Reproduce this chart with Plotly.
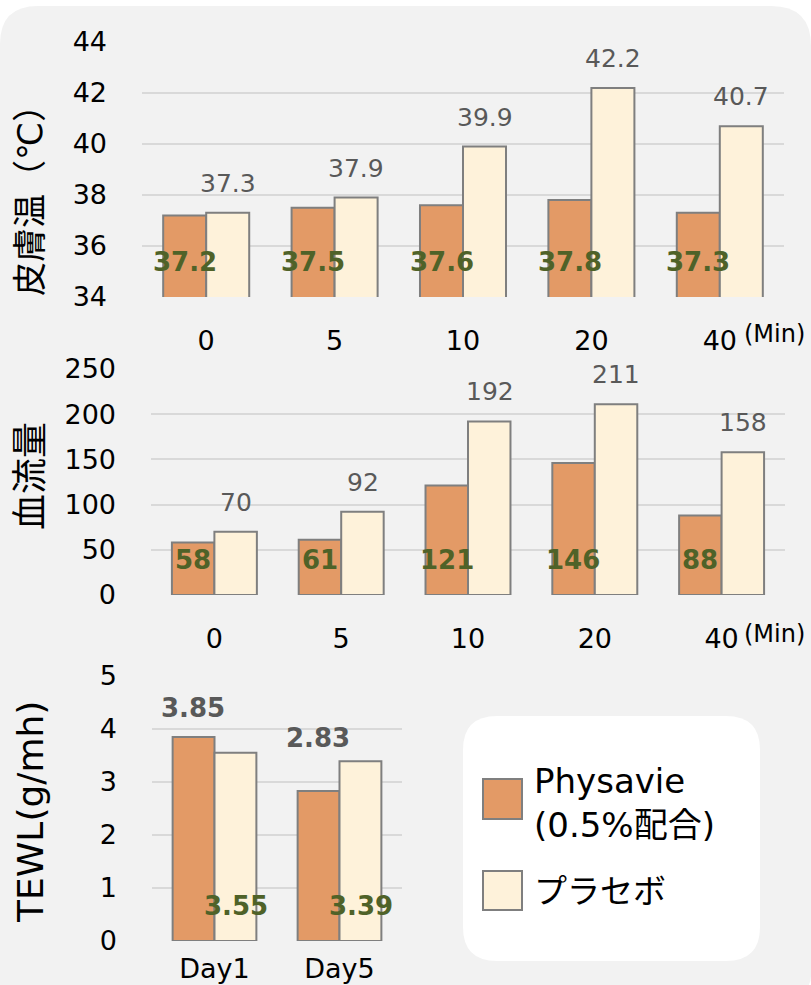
import plotly.graph_objects as go

# ---- data ----
minutes = ["0", "5", "10", "20", "40"]
temp_physavie = [37.2, 37.5, 37.6, 37.8, 37.3]
temp_placebo = [37.3, 37.9, 39.9, 42.2, 40.7]
flow_physavie = [58, 61, 121, 146, 88]
flow_placebo = [70, 92, 192, 211, 158]
days = ["Day1", "Day5"]
tewl_physavie = [3.85, 2.83]
tewl_placebo = [3.55, 3.39]

temp_ticks = [34, 36, 38, 40, 42, 44]
flow_ticks = [0, 50, 100, 150, 200, 250]
tewl_ticks = [0, 1, 2, 3, 4, 5]

series_names = ["Physavie<br>(0.5%配合)", "プラセボ"]
y_titles = ["皮膚温（℃）", "血流量", "TEWL(g/mh)"]
unit_label = "(Min)"

# ---- style ----
W, H = 811, 985
FONT = "DejaVu Sans, Noto Sans CJK JP, sans-serif"
C_PHYS = "#E39A66"
C_PLAC = "#FEF2DA"
C_EDGE = "#7F7F7F"
C_GREEN = "#4F6228"
C_GREYTXT = "#595959"
C_GRID = "#D9D9D9"


def px_x(p):
    return p / W


def px_y(p):
    return 1 - p / H


fig = go.Figure()

panels = [
    ("x", "y", minutes, temp_physavie, temp_placebo),
    ("x2", "y2", minutes, flow_physavie, flow_placebo),
    ("x3", "y3", days, tewl_physavie, tewl_placebo),
]
for xa, ya, cats, phys, plac in panels:
    fig.add_trace(go.Bar(x=cats, y=phys, name=series_names[0], xaxis=xa, yaxis=ya,
                         marker=dict(color=C_PHYS, line=dict(color=C_EDGE, width=2)),
                         showlegend=False, hoverinfo="skip"))
    fig.add_trace(go.Bar(x=cats, y=plac, name=series_names[1], xaxis=xa, yaxis=ya,
                         marker=dict(color=C_PLAC, line=dict(color=C_EDGE, width=2)),
                         showlegend=False, hoverinfo="skip"))

annotations = []
half_bar = 21.5

# panels 1 & 2: placebo value above bar (grey), physavie value near base (green bold)
for xa, ya, cats, phys, plac in panels[:2]:
    for i, (p, q) in enumerate(zip(phys, plac)):
        annotations.append(dict(xref=xa, yref=ya, x=i, y=q, xshift=half_bar, yshift=13,
                                yanchor="bottom", text=str(q), showarrow=False,
                                font=dict(size=25, color=C_GREYTXT, family=FONT)))
        annotations.append(dict(xref=xa, yref=ya + " domain", x=i, y=0, xshift=-half_bar, yshift=18,
                                yanchor="bottom", text="<b>%s</b>" % p, showarrow=False,
                                font=dict(size=26, color=C_GREEN, family=FONT)))

# panel 3: physavie value above (grey bold), placebo value near base (green bold)
top_shift = [12, 36]
for i, (p, q, s) in enumerate(zip(tewl_physavie, tewl_placebo, top_shift)):
    annotations.append(dict(xref="x3", yref="y3", x=i, y=p, xshift=-half_bar, yshift=s,
                            yanchor="bottom", text="<b>%s</b>" % p, showarrow=False,
                            font=dict(size=26, color=C_GREYTXT, family=FONT)))
    annotations.append(dict(xref="x3", yref="y3 domain", x=i, y=0, xshift=half_bar, yshift=18,
                            yanchor="bottom", text="<b>%s</b>" % q, showarrow=False,
                            font=dict(size=26, color=C_GREEN, family=FONT)))

# y titles
for t, yc, fs in zip(y_titles, [192, 476, 812], [34, 36, 36]):
    annotations.append(dict(xref="paper", yref="paper", x=px_x(30), y=px_y(yc), text=t,
                            textangle=-90, showarrow=False, xanchor="center", yanchor="middle",
                            font=dict(size=fs, color="#000000", family=FONT)))

# (Min) unit labels
for yc in [334, 634]:
    annotations.append(dict(xref="paper", yref="paper", x=px_x(742), y=px_y(yc), text=unit_label,
                            showarrow=False, xanchor="left", yanchor="middle",
                            font=dict(size=24, color="#000000", family=FONT)))

# legend text
annotations.append(dict(xref="paper", yref="paper", x=px_x(532), y=px_y(803), text=series_names[0],
                        showarrow=False, xanchor="left", yanchor="middle", align="left",
                        font=dict(size=34, color="#000000", family=FONT)))
annotations.append(dict(xref="paper", yref="paper", x=px_x(532), y=px_y(891), text=series_names[1],
                        showarrow=False, xanchor="left", yanchor="middle", align="left",
                        font=dict(size=33, color="#000000", family=FONT)))


def rounded_path(x0, y0, x1, y1, r_tl, r_tr, r_br, r_bl):
    # pixel coordinates (top-left origin) -> paper path
    def P(x, y):
        return "%.5f,%.5f" % (px_x(x), px_y(y))
    return ("M " + P(x0, y0 + r_tl) + " Q " + P(x0, y0) + " " + P(x0 + r_tl, y0) +
            " L " + P(x1 - r_tr, y0) + " Q " + P(x1, y0) + " " + P(x1, y0 + r_tr) +
            " L " + P(x1, y1 - r_br) + " Q " + P(x1, y1) + " " + P(x1 - r_br, y1) +
            " L " + P(x0 + r_bl, y1) + " Q " + P(x0, y1) + " " + P(x0, y1 - r_bl) + " Z")


shapes = [
    dict(type="path", xref="paper", yref="paper", layer="below",
         path=rounded_path(0, 6, 811, 990, 38, 40, 14, 0),
         fillcolor="#F2F2F2", line=dict(width=0)),
    dict(type="path", xref="paper", yref="paper", layer="below",
         path=rounded_path(463, 716, 760, 961, 34, 34, 34, 34),
         fillcolor="#FFFFFF", line=dict(width=0)),
    dict(type="rect", xref="paper", yref="paper", layer="above",
         x0=px_x(483), x1=px_x(522), y0=px_y(819), y1=px_y(779),
         fillcolor=C_PHYS, line=dict(color=C_EDGE, width=2)),
    dict(type="rect", xref="paper", yref="paper", layer="above",
         x0=px_x(483), x1=px_x(522), y0=px_y(910), y1=px_y(871),
         fillcolor=C_PLAC, line=dict(color=C_EDGE, width=2)),
]

tickfont = dict(size=27, color="#000000", family=FONT)
xcommon = dict(type="category", showgrid=False, zeroline=False, showline=False, ticks="",
               tickfont=tickfont, fixedrange=True, automargin=False)
ycommon = dict(showgrid=True, gridcolor=C_GRID, gridwidth=1.5, zeroline=False, showline=False,
               ticks="", tickfont=tickfont, ticklabelstandoff=34, fixedrange=True,
               automargin=False)

fig.update_layout(
    width=W, height=H,
    margin=dict(l=0, r=0, t=0, b=0, pad=0, autoexpand=False),
    paper_bgcolor="#FFFFFF", plot_bgcolor="rgba(0,0,0,0)",
    font=dict(family=FONT),
    barmode="group", bargap=0.33, bargroupgap=0,
    showlegend=False,
    xaxis=dict(xcommon, domain=[px_x(142), px_x(784)], anchor="y", ticklabelstandoff=25),
    yaxis=dict(ycommon, domain=[px_y(297), px_y(42)], anchor="x", range=[34, 44],
               tickvals=temp_ticks),
    xaxis2=dict(xcommon, domain=[px_x(151), px_x(785)], anchor="y2", ticklabelstandoff=25),
    yaxis2=dict(ycommon, domain=[px_y(595), px_y(369)], anchor="x2", range=[0, 250],
                tickvals=flow_ticks),
    xaxis3=dict(xcommon, domain=[px_x(152), px_x(402)], anchor="y3", ticklabelstandoff=9),
    yaxis3=dict(ycommon, domain=[px_y(941), px_y(676)], anchor="x3", range=[0, 5],
                tickvals=tewl_ticks),
    annotations=annotations,
    shapes=shapes,
)

page_css = ("document.documentElement.style.margin='0';document.body.style.margin='0';"
            "document.documentElement.style.overflow='hidden';document.body.style.overflow='hidden';"
            "document.body.style.height='985px';")
fig.write_html("out.html", config={"displayModeBar": False}, post_script=page_css)
